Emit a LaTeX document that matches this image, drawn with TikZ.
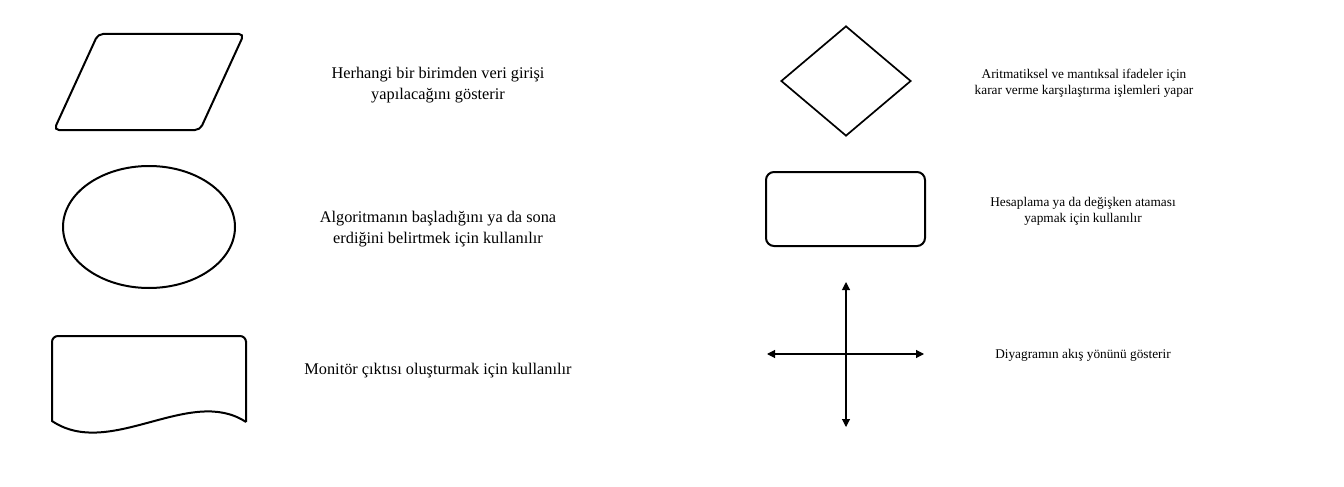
\documentclass[tikz,border=0pt]{standalone}
\usepackage{fontspec}
\setmainfont{Liberation Serif}
\usetikzlibrary{arrows.meta,positioning,shapes.geometric}
\tikzset{
	sym/.style={draw,line width=2pt,inner sep=0pt},
	desc/.style={align=center,font=\fontsize{16.3}{21}\selectfont},
	descs/.style={align=center,font=\fontsize{13.3}{16}\selectfont},
	flow/.style={line width=1.1pt,{Triangle[length=8pt,width=8pt]}-{Triangle[length=8pt,width=8pt]}}
}

\begin{document}
\begin{tikzpicture}[x=1pt,y=-1pt]
	\useasboundingbox (0,0) rectangle (1344,487);
	% left column
	\draw[sym,rounded corners=5pt] (98,34) -- (244,34) -- (200,130) -- (54,130) -- cycle;
	\node[desc] (input) at (438,85) {Herhangi bir birimden veri girişi\\yapılacağını gösterir};
	\node[sym,ellipse,minimum width=172pt,minimum height=122pt] (term) at (149,227) {};
	\node[desc] (termtxt) at (438,229) {Algoritmanın başladığını ya da sona\\erdiğini belirtmek için kullanılır};
	\draw[sym] (246,422) -- (246,341) [rounded corners=6pt] -- (246,336) -- (52,336) [sharp corners] -- (52,421)
		.. controls (110,460) and (190,385) .. (246,422);
	\node[desc] (output) at (438,371) {Monitör çıktısı oluşturmak için kullanılır};
	% right column
	\node[sym,diamond,line width=1.7pt,minimum width=130pt,minimum height=110pt] (dec) at (846,81) {};
	\node[descs] (dectxt) at (1084,83) {Aritmatiksel ve mantıksal ifadeler için\\karar verme karşılaştırma işlemleri yapar};
	\node[sym,rectangle,rounded corners=8pt,minimum width=159pt,minimum height=74pt] (proc) at (845.5,209) {};
	\node[descs] (proctxt) at (1083,211) {Hesaplama ya da değişken ataması\\yapmak için kullanılır};
	\coordinate (up) at (846,282);
	\coordinate (down) at (846,427);
	\coordinate (lft) at (767,354);
	\coordinate (rgt) at (924,354);
	\draw[flow] (down) -- (up);
	\draw[flow] (lft) -- (rgt);
	\node[descs] (flowtxt) at (1083,355) {Diyagramın akış yönünü gösterir};
\end{tikzpicture}
\end{document}
